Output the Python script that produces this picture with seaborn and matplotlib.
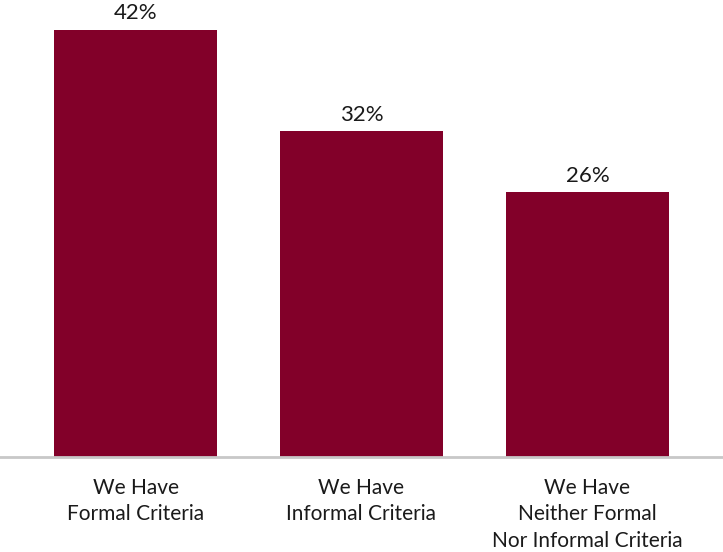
import matplotlib
matplotlib.use("Agg")
import matplotlib.pyplot as plt
import seaborn as sns
import pandas as pd

categories = ["We Have\nFormal Criteria", "We Have\nInformal Criteria", "We Have\nNeither Formal\nNor Informal Criteria"]
values = [42, 32, 26]
labels = ["42%", "32%", "26%"]

sns.set_theme(style="white")
plt.rcParams["font.family"] = ["Lato", "DejaVu Sans"]

df = pd.DataFrame({"category": categories, "value": values})

fig = plt.figure(figsize=(7.23, 5.52), dpi=100)
ax = fig.add_axes([0.0, 95 / 552, 1.0, 457 / 552])

sns.barplot(data=df, x="category", y="value", color="#820029", width=0.72,
            saturation=1, linewidth=0, ax=ax)

for patch, lab in zip(ax.patches, labels):
    ax.text(patch.get_x() + patch.get_width() / 2, patch.get_height() + 0.6, lab,
            ha="center", va="bottom", fontsize=16, color="#1a1a1a")

ax.set_xlim(-0.6, 2.6)
ax.set_ylim(0, 44.9)
ax.set_xlabel("")
ax.set_ylabel("")
ax.set_yticks([])
ax.tick_params(axis="x", length=0, pad=15, labelsize=15, labelcolor="#1a1a1a")
for lbl in ax.get_xticklabels():
    lbl.set_linespacing(1.4)
for side in ["top", "right", "left"]:
    ax.spines[side].set_visible(False)
ax.spines["bottom"].set_color("#c8c8c8")
ax.spines["bottom"].set_linewidth(2)

fig.savefig("out.png", dpi=100)
